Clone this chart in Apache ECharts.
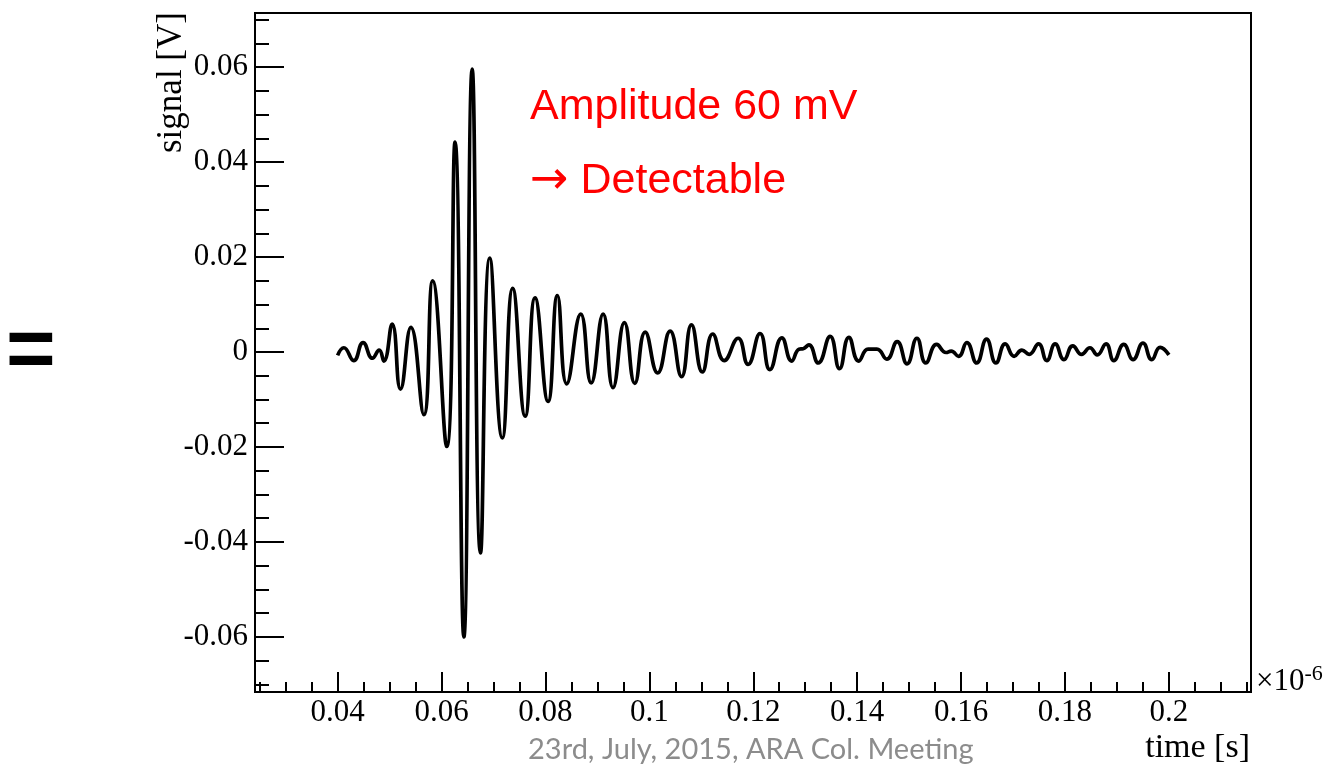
<!DOCTYPE html>
<html>
<head>
<meta charset="utf-8">
<script src="https://cdn.jsdelivr.net/npm/echarts@6/dist/echarts.min.js"></script>
<style>
  html, body { margin: 0; padding: 0; background: #fff; }
  #chart { width: 1327px; height: 771px; }
</style>
</head>
<body>
<div id="chart"></div>
<script>
// ---- data (time in units of 1e-6 s, signal in V) at extrema ----
const times = [0.0400, 0.0412, 0.0431, 0.0449, 0.0467, 0.0480, 0.0489, 0.0505, 0.0521, 0.0541,
  0.0566, 0.0583, 0.0610, 0.0626, 0.0643, 0.0659, 0.0675, 0.0693, 0.0717,
  0.0737, 0.0761, 0.0780, 0.0805, 0.0823, 0.0841, 0.0868, 0.0888, 0.0911, 0.0930,
  0.0952, 0.0972, 0.0992, 0.1016, 0.1040, 0.1062, 0.1081, 0.1102, 0.1122, 0.1144,
  0.1171, 0.1190, 0.1213, 0.1232, 0.1255, 0.1274, 0.1288, 0.1296, 0.1307, 0.1325,
  0.1348, 0.1366, 0.1384, 0.1403, 0.1421, 0.1438, 0.1457, 0.1477, 0.1496, 0.1515,
  0.1532, 0.1553, 0.1571, 0.1581, 0.1595, 0.1611, 0.1630, 0.1649, 0.1667, 0.1685,
  0.1702, 0.1717, 0.1731, 0.1749, 0.1765, 0.1781, 0.1798, 0.1815, 0.1832, 0.1848,
  0.1862, 0.1879, 0.1894, 0.1913, 0.1931, 0.1950, 0.1967, 0.1983, 0.2000];
const signal = [-0.0007, 0.0009, -0.0018, 0.0020, -0.0013, 0.0004, -0.0019, 0.0059, -0.0078, 0.0052,
  -0.0132, 0.0150, -0.0199, 0.0442, -0.0600, 0.0596, -0.0423, 0.0198, -0.0181,
  0.0134, -0.0135, 0.0114, -0.0104, 0.0119, -0.0067, 0.0080, -0.0065, 0.0080, -0.0075,
  0.0062, -0.0066, 0.0042, -0.0044, 0.0044, -0.0052, 0.0057, -0.0042, 0.0038, -0.0018,
  0.0029, -0.0026, 0.0039, -0.0037, 0.0030, -0.0019, 0.0006, 0.0007, 0.0015, -0.0023,
  0.0033, -0.0035, 0.0031, -0.0019, 0.0006, 0.0006, -0.0015, 0.0022, -0.0025, 0.0029,
  -0.0023, 0.0016, -0.0001, 0.0002, -0.0009, 0.0020, -0.0023, 0.0027, -0.0023, 0.0017,
  -0.0009, 0.0004, -0.0005, 0.0017, -0.0018, 0.0017, -0.0016, 0.0013, -0.0005, 0.0009,
  -0.0006, 0.0017, -0.0018, 0.0016, -0.0016, 0.0019, -0.0016, 0.0010, -0.0006];

// ---- axes / tick labels ----
const xMajorTicks = [0.04, 0.06, 0.08, 0.1, 0.12, 0.14, 0.16, 0.18, 0.2];
const xTickLabels = ['0.04', '0.06', '0.08', '0.1', '0.12', '0.14', '0.16', '0.18', '0.2'];
const yMajorTicks = [-0.06, -0.04, -0.02, 0, 0.02, 0.04, 0.06];
const yTickLabels = ['-0.06', '-0.04', '-0.02', '0', '0.02', '0.04', '0.06'];
const xRange = [0.0241, 0.2158];
const yRange = [-0.0716, 0.0714];
const minorStep = 0.005;

const xAxisTitle = 'time [s]';
const yAxisTitle = 'signal [V]';
const xExponent = '×10';
const xExponentPow = '-6';
const noteLine1 = 'Amplitude 60 mV';
const noteArrow = '→';
const noteLine2 = 'Detectable';
const footer = '23rd, July, 2015, ARA Col. Meeting';
const leftSign = '=';

function minorTicks(range, majors) {
  const out = [];
  const start = Math.ceil(range[0] / minorStep - 1e-9);
  const end = Math.floor(range[1] / minorStep + 1e-9);
  for (let k = start; k <= end; k++) {
    const v = +(k * minorStep).toFixed(4);
    if (!majors.some(m => Math.abs(m - v) < 1e-9)) out.push(v);
  }
  return out;
}
function labelFor(majors, labels) {
  return v => {
    for (let i = 0; i < majors.length; i++) if (Math.abs(majors[i] - v) < 1e-9) return labels[i];
    return '';
  };
}

const chart = echarts.init(document.getElementById('chart'), null, { renderer: 'canvas' });
const serif = 'Liberation Serif, Times New Roman, serif';
const labelStyle = { fontFamily: serif, fontSize: 31, color: '#000' };

chart.setOption({
  backgroundColor: '#fff',
  animation: false,
  grid: { left: 255, top: 13, right: 76, bottom: 79, show: true, borderColor: '#000', borderWidth: 2, backgroundColor: 'transparent' },
  xAxis: [
    {
      type: 'value', min: xRange[0], max: xRange[1], position: 'bottom',
      axisLine: { show: true, onZero: false, lineStyle: { color: '#000', width: 2 } },
      axisTick: { show: true, inside: true, length: 20, customValues: xMajorTicks, lineStyle: { color: '#000', width: 2 } },
      axisLabel: { show: true, customValues: xMajorTicks, formatter: labelFor(xMajorTicks, xTickLabels), margin: 5, ...labelStyle },
      splitLine: { show: false }
    },
    {
      type: 'value', min: xRange[0], max: xRange[1], position: 'bottom',
      axisLine: { show: false, onZero: false },
      axisTick: { show: true, inside: true, length: 10, customValues: minorTicks(xRange, xMajorTicks), lineStyle: { color: '#000', width: 2 } },
      axisLabel: { show: false },
      splitLine: { show: false }
    }
  ],
  yAxis: [
    {
      type: 'value', min: yRange[0], max: yRange[1], position: 'left',
      axisLine: { show: true, onZero: false, lineStyle: { color: '#000', width: 2 } },
      axisTick: { show: true, inside: true, length: 29, customValues: yMajorTicks, lineStyle: { color: '#000', width: 2 } },
      axisLabel: { show: true, customValues: yMajorTicks, formatter: labelFor(yMajorTicks, yTickLabels), margin: 7, ...labelStyle },
      splitLine: { show: false }
    },
    {
      type: 'value', min: yRange[0], max: yRange[1], position: 'left',
      axisLine: { show: false, onZero: false },
      axisTick: { show: true, inside: true, length: 14, customValues: minorTicks(yRange, yMajorTicks), lineStyle: { color: '#000', width: 2 } },
      axisLabel: { show: false },
      splitLine: { show: false }
    }
  ],
  series: [{
    type: 'line',
    xAxisIndex: 0, yAxisIndex: 0,
    data: times.map((t, i) => [t, signal[i]]),
    smooth: 0.5,
    showSymbol: false,
    lineStyle: { color: '#000', width: 3.7 },
    clip: true
  }],
  graphic: [
    { type: 'text', left: 530, top: 86, style: { text: noteLine1, fill: '#ff0000', font: '43px "Liberation Sans", Arial, sans-serif' } },
    { type: 'text', left: 530, top: 158, style: {
        text: '{a|' + noteArrow + '}{b| ' + noteLine2 + '}',
        rich: {
          a: { fontFamily: 'DejaVu Sans', fontSize: 46, fill: '#ff0000', color: '#ff0000' },
          b: { fontFamily: '"Liberation Sans", Arial, sans-serif', fontSize: 43, fill: '#ff0000', color: '#ff0000' }
        }
      } },
    { type: 'text', left: 6, top: 311, style: { text: leftSign, fill: '#000', font: 'bold 85px "Liberation Sans", Arial, sans-serif' } },
    { type: 'text', right: 77, top: 731, style: { text: xAxisTitle, fill: '#000', font: '34px "Liberation Serif", "Times New Roman", serif' } },
    { type: 'text', x: 154, y: 153, rotation: Math.PI / 2, style: { text: yAxisTitle, fill: '#000', font: '35px "Liberation Serif", "Times New Roman", serif', align: 'left', verticalAlign: 'top' } },
    { type: 'text', left: 1256, top: 663, style: {
        text: '{a|' + xExponent + '}{b|' + xExponentPow + '}',
        rich: {
          a: { fontFamily: serif, fontSize: 31, fill: '#000', color: '#000', verticalAlign: 'bottom' },
          b: { fontFamily: serif, fontSize: 22, fill: '#000', color: '#000', verticalAlign: 'top', padding: [0, 0, 12, 0] }
        }
      } },
    { type: 'text', left: 528, top: 735, style: { text: footer, fill: '#8c8c8c', font: '29px Lato, "Open Sans", sans-serif' } }
  ]
});
</script>
</body>
</html>
